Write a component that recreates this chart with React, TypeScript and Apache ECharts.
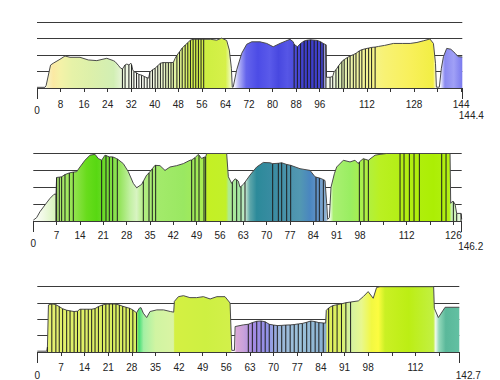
import { useEffect, useRef } from 'react';
import * as echarts from 'echarts';

// Profiles: [km, height in grid units, 1 = vertical marker line]
const profile1: number[][] = [
  [0, 0.04], [2.7, 0.04], [3.1, 0.15], [4.6, 1.39], [5.5, 1.5], [7.8, 1.74], [9.5, 1.94], [11.2, 1.86],
  [14.6, 1.86], [17.4, 1.7], [20.3, 1.66], [23.7, 1.8], [25.9, 1.66], [26.5, 1.6], [27.6, 1.38], [28.3, 1.22],
  [29.0, 1.15, 1], [29.9, 1.4, 1], [30.5, 1.45], [31.2, 1.4, 1], [31.9, 1.5], [32.1, 1.42, 1], [32.5, 1.1],
  [32.9, 1.0, 1], [33.8, 0.92, 1], [34.6, 0.82, 1], [35.5, 0.78, 1], [36.4, 0.7, 1], [37.4, 0.62, 1], [37.9, 0.6],
  [38.3, 0.95, 1], [39.2, 1.1, 1], [40.1, 1.2, 1], [41.0, 1.35, 1], [41.9, 1.5, 1], [42.8, 1.54, 1], [43.7, 1.54, 1],
  [44.6, 1.54, 1], [45.5, 1.54, 1], [46.3, 1.55, 1], [46.9, 1.8], [47.5, 1.98, 1], [48.4, 2.2, 1], [49.3, 2.42, 1],
  [50.3, 2.6, 1], [51.2, 2.75, 1], [52.1, 2.9, 1], [53.0, 2.95, 1], [53.9, 2.95, 1], [54.8, 2.95, 1], [55.7, 2.95, 1],
  [56.6, 2.95, 1], [59, 2.95], [61, 2.9], [62.7, 3.02], [64.4, 2.88], [65.3, 2.3], [66.0, 1.2], [66.3, 0.05],
  [66.6, 0.05], [67.8, 1.1], [69.5, 2.1], [71.2, 2.65], [72.9, 2.8], [75.7, 2.8], [78, 2.7], [80.2, 2.5], [82.5, 2.7],
  [84.5, 2.85], [85.9, 2.95], [87, 2.8], [87.3, 2.65, 1], [88.4, 2.5, 1], [89.5, 2.7, 1], [90.7, 2.85, 1],
  [91.8, 2.9, 1], [92.9, 2.92, 1], [94.1, 2.9, 1], [95.2, 2.88, 1], [96.3, 2.8, 1], [97.2, 2.7, 1], [98.1, 2.62, 1],
  [98.3, 0.65], [99.5, 0.65, 1], [100.4, 0.7, 1], [100.9, 1.0], [101.5, 1.1, 1], [102.4, 1.35, 1], [103.5, 1.6, 1],
  [104.3, 1.72, 1], [105.4, 1.85, 1], [106.3, 1.94, 1], [107.4, 2.02, 1], [108.3, 2.1, 1], [109.4, 2.25, 1],
  [110.3, 2.32, 1], [111.5, 2.38, 1], [112.6, 2.42, 1], [113.6, 2.46, 1], [114.8, 2.48, 1], [116, 2.52], [118, 2.58],
  [121, 2.7], [124, 2.7], [126.7, 2.7], [129, 2.76], [131.2, 2.86], [133.4, 2.97], [134.6, 2.7], [135.3, 1.5],
  [135.6, 0.05], [136.6, 0.05], [137.3, 1.2], [138, 1.9], [139.1, 2.4], [140.5, 2.35], [142, 2.1], [143, 1.9],
  [144.4, 1.88],
];

const profile2: number[][] = [
  [0, 0.05], [1, 0.2], [2, 0.55], [3.5, 0.95], [5, 1.34], [6.2, 1.58], [6.8, 1.6, 1], [7.0, 2.58, 1],
  [7.8, 2.6, 1], [8.5, 2.62, 1], [9.5, 2.75, 1], [10.8, 2.85, 1], [12, 2.9, 1], [13, 2.92], [14, 3.2], [15.5, 3.6],
  [17, 3.9], [18.5, 3.95], [19.5, 3.7], [20.5, 3.6, 1], [21.5, 3.9], [21.8, 3.88, 1], [22.8, 3.8, 1], [23.8, 3.8, 1],
  [25, 3.7], [25.2, 3.68, 1], [27, 3.4], [28.5, 2.92], [30, 2.23], [31, 1.97], [32.5, 2.17], [33, 2.35, 1],
  [34, 2.72], [34.7, 2.85, 1], [35.7, 3.1, 1], [36.5, 3.3], [36.7, 3.3, 1], [38, 3.28], [39.5, 3.0], [41, 3.2],
  [43, 3.28], [45, 3.4], [47, 3.6], [47.5, 3.62, 1], [48.5, 3.75, 1], [49.5, 3.95], [49.7, 3.9, 1], [50.5, 3.7],
  [51.2, 3.78, 1], [51.7, 3.8, 1], [52, 4.0], [58, 4.0], [58.5, 2.62], [59.5, 2.23], [59.7, 2.3, 1], [60.5, 2.5],
  [61, 2.45, 1], [61.5, 2.36], [62, 2.0], [62.3, 2.05, 1], [63, 2.17], [63.5, 2.3, 1], [65, 2.72], [67, 3.2],
  [69, 3.47], [71, 3.45], [71.8, 3.4, 1], [73.5, 3.42, 1], [74.5, 3.45, 1], [76, 3.35, 1], [77.2, 3.3, 1], [80, 3.1],
  [83, 3.0], [84.5, 2.62], [84.8, 2.6, 1], [85.8, 2.55, 1], [86.5, 2.5], [87, 2.45, 1], [87.5, 2.4], [88, 1.05],
  [88.3, 0.1], [88.8, 0.2], [89.3, 2.0], [90.3, 2.8], [91, 3.2], [93, 3.6], [95, 3.5], [96.5, 3.6], [97.5, 3.4],
  [97.8, 3.5, 1], [99, 3.7], [99.2, 3.68, 1], [100.5, 3.6, 1], [102.5, 3.9], [104, 3.95], [106, 4.0], [110, 4.0, 1],
  [111.2, 4.0, 1], [112.8, 4.0, 1], [114.2, 4.0, 1], [115.8, 4.0, 1], [122.5, 4.0, 1], [123.8, 4.0, 1], [125, 4.0],
  [125.2, 1.05], [125.6, 1.15], [126, 1.15, 1], [126.5, 1.0], [127, 0.45, 1], [128.3, 0.45, 1], [128.5, 0.1],
];

const profile3: number[][] = [
  [0, 0.05], [2.8, 0.05], [3.0, 0.3, 1], [3.3, 2.88], [4.3, 2.95, 1], [5.5, 2.9, 1], [6.5, 2.78, 1], [7.5, 2.65, 1],
  [8.7, 2.56, 1], [9.7, 2.52, 1], [10.9, 2.48, 1], [11.9, 2.5, 1], [12.6, 2.62], [12.9, 2.62, 1], [14.1, 2.62, 1],
  [15.1, 2.62, 1], [16.1, 2.62, 1], [17.1, 2.66, 1], [18.1, 2.78, 1], [19.3, 2.88, 1], [20.3, 2.93, 1],
  [21.3, 2.94, 1], [22.3, 2.94, 1], [23.3, 2.93, 1], [24.3, 2.88, 1], [25.3, 2.8, 1], [26.3, 2.74, 1],
  [27.3, 2.68, 1], [28.3, 2.58, 1], [29.4, 2.4, 1], [30.2, 2.68], [30.7, 2.72], [31.4, 2.38], [32.4, 2.11],
  [33.4, 2.48], [35.4, 2.58], [37.4, 2.58], [39.4, 2.48], [40.4, 2.44], [40.6, 3.1], [41.8, 3.39], [43.3, 3.45],
  [45.2, 3.33], [47.2, 3.33], [49.2, 3.39], [51.2, 3.25], [53.2, 3.39], [55.6, 3.39], [57.1, 3.0], [57.6, 0.1],
  [58.4, 0.1], [58.6, 1.56], [61, 1.66], [62.5, 1.7, 1], [63.7, 1.8, 1], [65.0, 1.88, 1], [66.3, 1.9, 1],
  [67.5, 1.85, 1], [68.7, 1.7, 1], [70.0, 1.65, 1], [71.1, 1.62, 1], [72.4, 1.63, 1], [73.6, 1.65, 1],
  [74.9, 1.66, 1], [76.1, 1.68, 1], [77.3, 1.72, 1], [78.5, 1.75, 1], [79.8, 1.82, 1], [81.0, 1.9, 1],
  [82.3, 1.86, 1], [83.4, 1.8, 1], [84.7, 1.78, 1], [85.4, 1.77], [85.6, 2.55], [86.3, 2.7, 1], [87.5, 2.84, 1],
  [88.8, 2.9, 1], [90.1, 2.95, 1], [91.4, 3.02, 1], [92.8, 3.06, 1], [95.1, 3.13], [96.6, 3.4], [98, 3.7],
  [99.5, 3.29], [100.5, 3.95], [101.5, 4.0], [117.4, 4.0], [117.6, 2.68], [118.8, 2.11], [120.8, 2.74], [125, 2.74],
];

// Fill colour along the route: [km, colour]
const stops1: [number, string][] = [
  [0, '#ffffff'], [2.8, '#ffffff'], [3.4, '#f6f2c4'], [5.5, '#fbe9a4'], [8, '#f4f2a8'], [12, '#e6f2a8'],
  [18, '#ddf0aa'], [23, '#d6efb0'], [26, '#d2efb4'], [28.5, '#e4f3d2'], [31, '#f0f8e6'], [34, '#fbfdf6'],
  [38, '#f4f8ea'], [42, '#ecf6d0'], [46, '#e2f3ac'], [49, '#e0f38c'], [52, '#d4f050'], [58, '#cfef42'],
  [64, '#d6f04a'], [66.2, '#f4fad8'], [66.8, '#ffffff'], [68.5, '#b4b4f6'], [71, '#6464ec'], [75, '#4c4ce6'],
  [79, '#5a5aea'], [82, '#4848e0'], [85, '#5656e6'], [88, '#4a4ad8'], [92, '#3c3cc8'], [97, '#4444d0'],
  [98.3, '#f4f8ee'], [100.5, '#f0f8e4'], [102.5, '#def2b8'], [106, '#ecf4ac'], [111, '#f4f498'], [118, '#f8f274'],
  [127, '#f8f05a'], [134.5, '#f2ee44'], [135.6, '#ffffff'], [136.8, '#ffffff'], [138.5, '#8a8af0'],
  [141.5, '#a0a0f6'], [144.4, '#7a7aee'],
];
const stops2: [number, string][] = [
  [0, '#ffffff'], [3, '#f0f9e4'], [6.6, '#d8f3bc'], [7.1, '#ace872'], [10, '#a2e862'], [13, '#8ae244'],
  [16, '#68dc1c'], [19, '#58d812'], [22, '#72dc32'], [26, '#96e45e'], [29, '#c2f0a2'], [31, '#d8f4c2'],
  [33, '#b2ec82'], [38, '#a2ea6a'], [45, '#9ae862'], [51.5, '#a8ec52'], [52.2, '#c4f024'], [57.8, '#c2f02a'],
  [58.6, '#aeea92'], [62, '#a4e6a4'], [63.6, '#c8ead2'], [65, '#5ea6aa'], [67, '#2c8a9a'], [72, '#3a8ca2'],
  [76, '#4a92aa'], [80, '#5298b2'], [83, '#4a86c0'], [85.5, '#6494c8'], [87.8, '#8eb2d2'], [88.4, '#ffffff'],
  [89.2, '#e0f8d0'], [90, '#aaf072'], [95, '#9aee62'], [100, '#b0f042'], [104, '#baf022'], [112, '#b2ee12'],
  [120, '#acee04'], [124.8, '#b2f014'], [125.4, '#c4f0aa'], [127, '#d4f4c4'], [128.5, '#f4fcf0'],
];
const stops3: [number, string][] = [
  [0, '#ffffff'], [2.8, '#ffffff'], [3.3, '#e6f272'], [10, '#e0f06a'], [20, '#dcf062'], [29.3, '#d8f062'],
  [30.1, '#44de74'], [31.5, '#a4f0a4'], [35, '#d0f4a2'], [40.3, '#daf4a4'], [40.7, '#d4f042'], [50, '#cef042'],
  [57.2, '#d2f04a'], [57.7, '#ffffff'], [58.3, '#ffffff'], [59, '#daa8d8'], [61, '#caa2da'], [64, '#a48ae2'],
  [68, '#9292e8'], [72, '#9cb8da'], [78, '#9cc2da'], [84, '#8cb2d2'], [85.5, '#8aaaca'], [85.8, '#e2f05a'],
  [90, '#daf064'], [92.5, '#d2f0a2'], [96, '#e8f88e'], [99, '#f2f842'], [101, '#fcfc40'], [103, '#caf024'],
  [110, '#bcee14'], [117.3, '#c2f042'], [118, '#eef8ee'], [119, '#92d8ba'], [121, '#5ab89a'], [125, '#62c0a2'],
];

const axisEnds = [144.4, 128.5, 125];
const totalLabels = ['144.4', '146.2', '142.7'];
const tickSteps = [8, 7, 7];
const unlabeledTicks = [[104, 120, 136], [105, 119], [105, 119]];

const grids = [
  { left: 37, top: 22, width: 425.3, height: 66 },
  { left: 33.3, top: 153.5, width: 428.4, height: 67.5 },
  { left: 37.3, top: 286.7, width: 422, height: 65.6 },
];
// [tick labels, "0" label, total label]
const labelMargins = [[7, 13, 18.5], [5, 13.5, 16.5], [6.7, 14, 14]];

const FONT = 'Liberation Sans, Arial, sans-serif';
const TXT = '#222';

export default function App() {
  const ref = useRef<HTMLDivElement>(null);
  useEffect(() => {
    if (!ref.current) return;
    const chart = echarts.init(ref.current, undefined, { renderer: 'svg' });
    const profiles = [profile1, profile2, profile3];
    const stops = [stops1, stops2, stops3];
    const xAxis: any[] = [];
    const yAxis: any[] = [];
    const series: any[] = [];
    const base = { axisLine: { show: false }, splitLine: { show: false } };
    for (let i = 0; i < 3; i++) {
      const end = axisEnds[i];
      xAxis.push({
        ...base, type: 'value', gridIndex: i, position: 'bottom', min: 0, max: end, interval: tickSteps[i], offset: 4,
        axisTick: { show: true, length: 4, lineStyle: { color: '#333', width: 1 } },
        axisLabel: {
          margin: labelMargins[i][0], fontSize: 10, fontFamily: FONT, color: TXT,
          showMinLabel: true, showMaxLabel: true,
          formatter: (v: number) => {
            if (v === 0 || Math.abs(v - end) < 1e-6) return '';
            if (unlabeledTicks[i].includes(v)) return '';
            return String(v);
          },
        },
      });
      xAxis.push({
        ...base, type: 'value', gridIndex: i, position: 'bottom', min: 0, max: end, offset: 4,
        axisTick: { show: true, length: 7, customValues: [0, end], lineStyle: { color: '#333', width: 1 } },
        axisLabel: {
          customValues: [0], margin: labelMargins[i][1], fontSize: 10, fontFamily: FONT, color: TXT,
          showMinLabel: true, formatter: () => '0',
        },
      });
      xAxis.push({
        ...base, type: 'value', gridIndex: i, position: 'bottom', min: 0, max: end, offset: 4,
        axisTick: { show: false },
        axisLabel: {
          customValues: [end], margin: labelMargins[i][2], fontSize: 10, fontFamily: FONT, color: TXT,
          showMaxLabel: true,
          formatter: () => '{e|' + totalLabels[i] + '}',
          rich: { e: { padding: [0, 0, 0, 18], fontSize: 10, fontFamily: FONT, color: TXT } },
        },
      });
      yAxis.push({
        type: 'value', gridIndex: i, min: 0, max: 4, interval: 1,
        axisLine: { show: false }, axisTick: { show: false }, axisLabel: { show: false },
        splitLine: { show: true, lineStyle: { color: '#3a3a3a', width: 1 } },
      });
      series.push({
        type: 'line', xAxisIndex: 3 * i, yAxisIndex: i, symbol: 'none', silent: true, z: 2,
        data: profiles[i].map((p) => [p[0], p[1]]),
        lineStyle: { color: '#4a4a4a', width: 1 },
        areaStyle: {
          opacity: 1,
          color: new echarts.graphic.LinearGradient(0, 0, 1, 0,
            stops[i].map(([v, c]) => ({ offset: v / end, color: c }))),
        },
      });
      series.push({
        type: 'bar', xAxisIndex: 3 * i, yAxisIndex: i, silent: true, z: 3, barWidth: 1,
        data: profiles[i].filter((p) => p[2]).map((p) => [p[0], p[1]]),
        itemStyle: { color: '#1e1e1e' },
      });
    }
    chart.setOption({
      animation: false,
      backgroundColor: '#ffffff',
      grid: grids.map((g) => ({ ...g, containLabel: false })),
      xAxis, yAxis, series,
    });
    return () => chart.dispose();
  }, []);
  return <div ref={ref} style={{ position: 'fixed', left: 0, top: 0, width: 500, height: 380 }} />;
}
